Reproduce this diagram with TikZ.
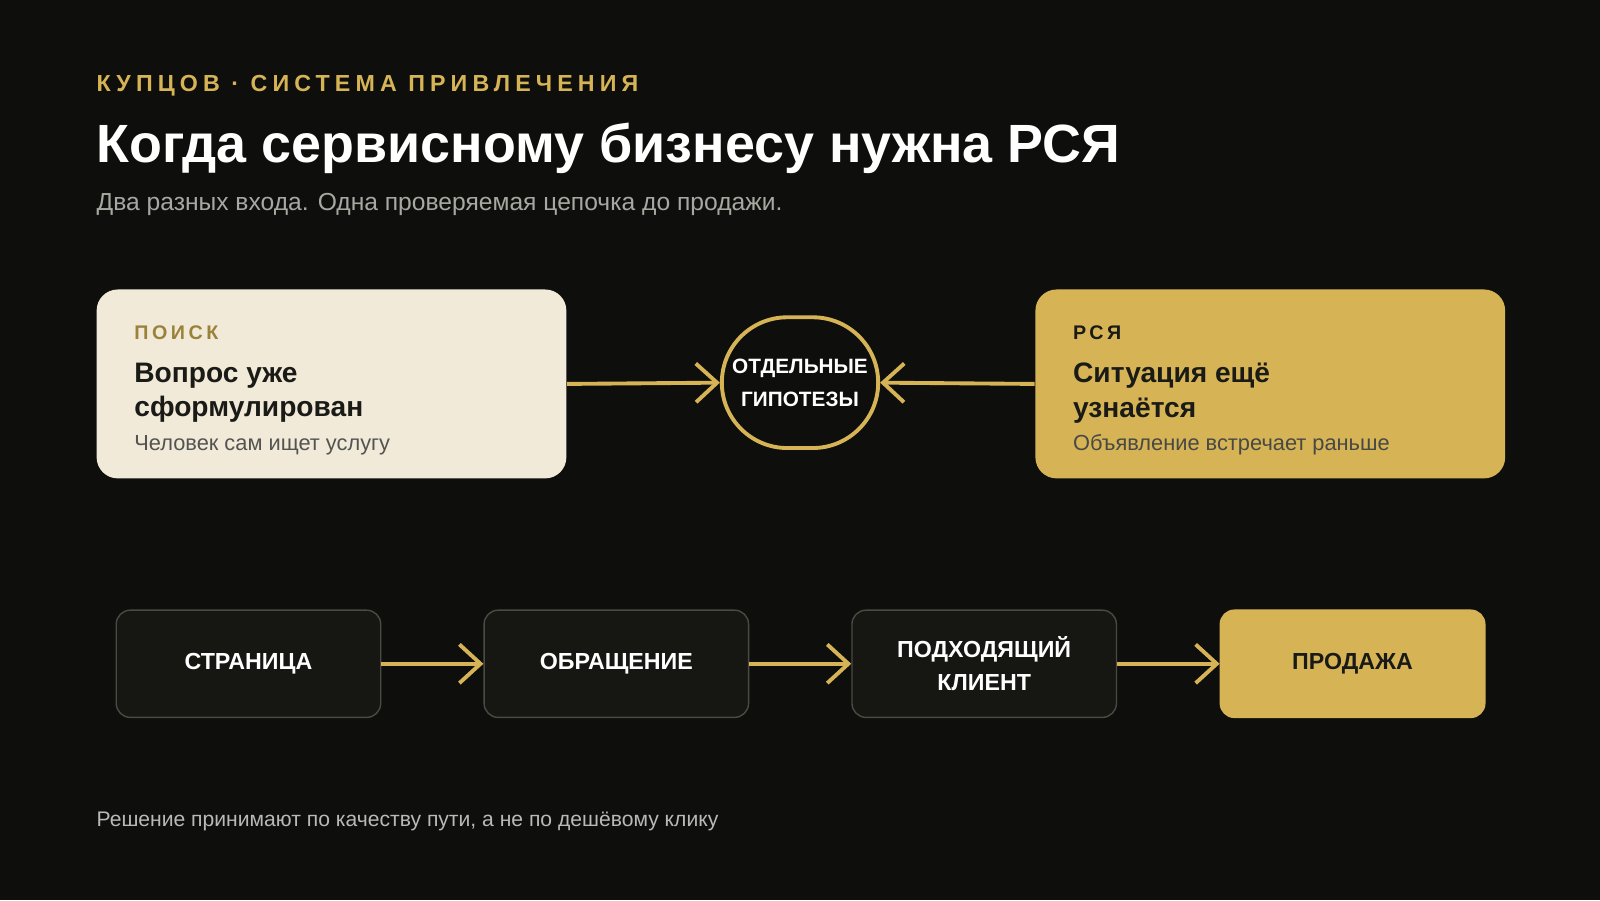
\documentclass[tikz,border=0pt]{standalone}
\usepackage{fontspec}
\setmainfont{Liberation Sans}
\usetikzlibrary{arrows.meta,positioning,shapes.misc}
\definecolor{bgdark}{HTML}{0E0E0D}
\definecolor{gold}{HTML}{D6B456}
\definecolor{golddark}{HTML}{9A8238}
\definecolor{cream}{HTML}{F1EAD8}
\definecolor{ink}{HTML}{1A1A17}
\definecolor{boxdark}{HTML}{161612}
\definecolor{boxline}{HTML}{4A4A42}
\definecolor{greytext}{HTML}{A8A8A2}
\tikzset{
  card/.style={rounded corners=6pt, minimum width=4.692cm, minimum height=1.887cm, anchor=north west},
  stage/.style={draw=boxline, fill=boxdark, rounded corners=4pt, minimum width=2.642cm, minimum height=1.071cm,
    text=white, font=\fontsize{6.6}{9.4}\selectfont\bfseries, align=center},
  flow/.style={draw=gold, line width=1.1pt, -{Straight Barb[length=6pt,width=11pt,line width=1.1pt]}},
  txt/.style={anchor=west, inner sep=0pt},
}
\begin{document}
\begin{tikzpicture}[x=0.0102cm, y=-0.0102cm]
  \fill[bgdark] (0,0) rectangle (1568,882);
  \useasboundingbox (0,0) rectangle (1568,882);
  % header
  \node[txt, text=gold, font=\fontsize{6.6}{7}\selectfont\bfseries\addfontfeature{LetterSpace=22}] (kicker) at (94,84) {КУПЦОВ · СИСТЕМА ПРИВЛЕЧЕНИЯ};
  \node[txt, text=white, font=\fontsize{15.3}{18}\selectfont\bfseries] (title) at (94,145) {Когда сервисному бизнесу нужна РСЯ};
  \node[txt, text=greytext, font=\fontsize{7}{8}\selectfont] (lead) at (94,200) {Два разных входа. Одна проверяемая цепочка до продажи.};

  % two inputs
  \node[card, fill=cream] (search) at (94,283) {};
  \node[txt, text=golddark, font=\fontsize{5.6}{6}\selectfont\bfseries\addfontfeature{LetterSpace=18}] at (131,326) {ПОИСК};
  \node[anchor=north west, inner sep=0pt, text=ink, align=left, font=\fontsize{8}{9.8}\selectfont\bfseries] at (131,355) {Вопрос уже\\сформулирован};
  \node[txt, text=ink!75, font=\fontsize{6.2}{7}\selectfont] at (131,436) {Человек сам ищет услугу};

  \node[card, fill=gold] (rsya) at (1014,283) {};
  \node[txt, text=ink, font=\fontsize{5.6}{6}\selectfont\bfseries\addfontfeature{LetterSpace=18}] at (1051,326) {РСЯ};
  \node[anchor=north west, inner sep=0pt, text=ink, align=left, font=\fontsize{8}{9.8}\selectfont\bfseries] at (1051,355) {Ситуация ещё\\узнаётся};
  \node[txt, text=ink!80, font=\fontsize{6.2}{7}\selectfont] at (1051,436) {Объявление встречает раньше};

  \node[draw=gold, line width=1.1pt, rounded rectangle, minimum width=1.632cm, minimum height=1.306cm, inner sep=1pt,
    text=white, align=center, font=\fontsize{5.9}{9.4}\selectfont\bfseries] (hyp) at (784,375) {ОТДЕЛЬНЫЕ\\ГИПОТЕЗЫ};

  \draw[flow] (search.east) -- (hyp.west);
  \draw[flow] (rsya.west) -- (hyp.east);

  % chain
  \node[stage] (page) at (243.5,650.5) {СТРАНИЦА};
  \node[stage] (lead2) at (604,650.5) {ОБРАЩЕНИЕ};
  \node[stage] (client) at (964.5,650.5) {ПОДХОДЯЩИЙ\\КЛИЕНТ};
  \node[stage, fill=gold, draw=gold, text=ink] (sale) at (1325.5,650.5) {ПРОДАЖА};
  \draw[flow] (page) -- (lead2);
  \draw[flow] (lead2) -- (client);
  \draw[flow] (client) -- (sale);

  % footer
  \node[txt, text=greytext!80, font=\fontsize{6}{7}\selectfont] (note) at (94,805) {Решение принимают по качеству пути, а не по дешёвому клику};
\end{tikzpicture}
\end{document}
